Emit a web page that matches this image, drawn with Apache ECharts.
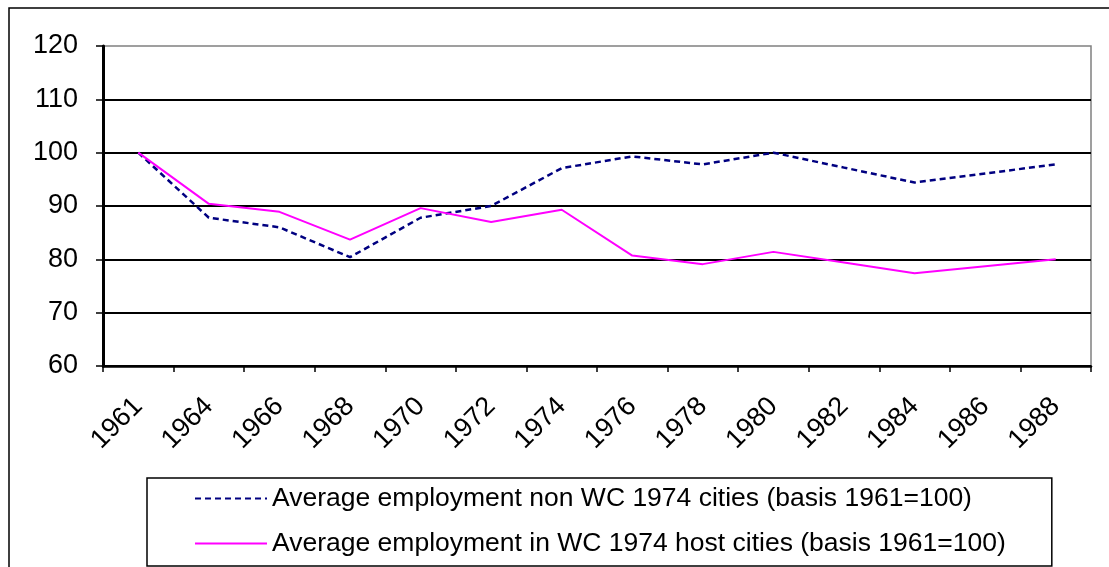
<!DOCTYPE html>
<html>
<head>
<meta charset="utf-8">
<script src="https://cdn.jsdelivr.net/npm/echarts@6/dist/echarts.min.js"></script>
<style>
  html, body { margin: 0; padding: 0; background: #fff; }
  #chart { width: 1109px; height: 567px; }
</style>
</head>
<body>
<div id="chart"></div>
<script>
// categories and values
const years = ['1961', '1964', '1966', '1968', '1970', '1972', '1974',
    '1976', '1978', '1980', '1982', '1984', '1986', '1988'];
const nonHost = [100, 87.8, 86.0, 80.4, 87.8, 90.0, 97.1, 99.3, 97.8, 100, 97.2, 94.4, 96.1, 97.8];
const host = [100, 90.4, 88.9, 83.7, 89.6, 87.0, 89.3, 80.7, 79.1, 81.4, 79.4, 77.4, 78.7, 80.0];
const nonHostName = 'Average employment non WC 1974 cities (basis 1961=100)';
const hostName = 'Average employment in WC 1974 host cities (basis 1961=100)';

const FONT = 'Liberation Sans, Arial, sans-serif';

const chart = echarts.init(document.getElementById('chart'));

const option = {
    animation: false,
    backgroundColor: '#fff',
    textStyle: { fontFamily: FONT, color: '#000' },
    graphic: [{
        type: 'rect',
        shape: { x: 9, y: 8, width: 1200, height: 700 },
        style: { fill: 'none', stroke: '#000', lineWidth: 1.5 },
        z: -1,
    }],
    grid: {
        left: 103,
        right: 18,
        top: 46,
        bottom: 201,
        show: true,
        borderColor: '#808080',
        borderWidth: 1.5,
        backgroundColor: '#fff',
    },
    legend: {
        left: 147,
        top: 478,
        orient: 'vertical',
        borderColor: '#000',
        borderWidth: 1.5,
        padding: [7, 46, 9, 47],
        itemGap: 18,
        itemWidth: 72,
        itemHeight: 14,
        itemStyle: { opacity: 0 },
        textStyle: { fontFamily: FONT, fontSize: 26.5, color: '#000' },
        data: [nonHostName, hostName],
    },
    xAxis: {
        type: 'category',
        data: years,
        boundaryGap: true,
        axisLine: { lineStyle: { color: '#000', width: 2.5 } },
        axisTick: { show: true, interval: 0, length: 6, lineStyle: { color: '#000', width: 1.5 } },
        axisLabel: {
            interval: 0,
            rotate: 45,
            margin: 36,
            fontSize: 27,
            fontFamily: FONT,
            color: '#000',
        },
    },
    yAxis: {
        type: 'value',
        min: 60,
        max: 120,
        interval: 10,
        axisLine: { show: true, lineStyle: { color: '#000', width: 3 } },
        axisTick: { show: true, length: 7, lineStyle: { color: '#000', width: 1.5 } },
        axisLabel: { margin: 25, fontSize: 27, fontFamily: FONT, color: '#000' },
        splitLine: { showMaxLine: false, lineStyle: { color: '#000', width: 2 } },
    },
    series: [
        {
            name: nonHostName,
            type: 'line',
            data: nonHost,
            symbol: 'none',
            itemStyle: { color: '#000080' },
            lineStyle: { color: '#000080', width: 2.5, type: [6, 4] },
        },
        {
            name: hostName,
            type: 'line',
            data: host,
            symbol: 'none',
            itemStyle: { color: '#FF00FF' },
            lineStyle: { color: '#FF00FF', width: 2 },
        },
    ],
};

chart.setOption(option);
</script>
</body>
</html>
